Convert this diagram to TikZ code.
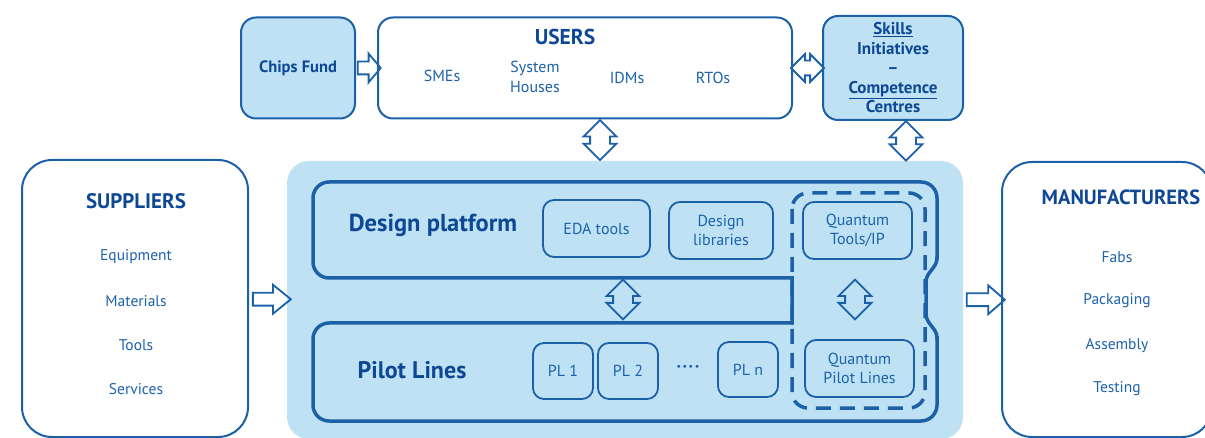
\documentclass[tikz,border=0pt]{standalone}
\usepackage{fontspec}
\setmainfont{PT Sans}
\usetikzlibrary{shapes.arrows,calc}
\definecolor{ecline}{RGB}{28,96,168}
\definecolor{ectext}{RGB}{28,98,172}
\definecolor{ectitle}{RGB}{14,72,148}
\definecolor{ecfill}{RGB}{190,226,244}
\tikzset{
% outlined boxes
box/.style={draw=ecline, line width=2pt, rounded corners=15pt, inner sep=0pt, align=center},
itembox/.style={draw=ecline, line width=1.8pt, rounded corners=11pt, inner sep=0pt, align=center, text=ectext, font=\fontsize{16}{19.5}\selectfont},
heading/.style={text=ectitle, font=\bfseries\fontsize{21}{24}\selectfont},
entry/.style={text=ectext, font=\fontsize{15.5}{19}\selectfont, align=center},
% hollow arrows
fatarrow/.style={single arrow, draw=ecline, line width=1.8pt, inner sep=5.5pt, single arrow head extend=8pt, minimum height=#1},
dblarrow/.style={double arrow, draw=ecline, line width=1.8pt, inner sep=9pt, double arrow head extend=6.5pt, minimum height=#1},
}

\begin{document}
\begin{tikzpicture}[x=1pt, y=-1pt]
\useasboundingbox (0,0) rectangle (1205,438);

% top row
\node[box, fill=ecfill, minimum width=114, minimum height=101, text=ectitle, font=\bfseries\fontsize{16.5}{20}\selectfont] (chips) at (298,68) {Chips Fund};
\node[box, fill=white, minimum width=414, minimum height=101] (users) at (585,68) {};
\node[box, fill=ecfill, minimum width=140, minimum height=104, text=ectitle, font=\bfseries\fontsize{17}{19.5}\selectfont] (skills) at (893,68)
  {\underline{Skills}\\Initiatives\\--\\\underline{Competence}\\Centres};

\node[heading, font=\bfseries\fontsize{21.5}{24}\selectfont] (usershead) at (565,37) {USERS};
\node[entry, font=\fontsize{16}{19.5}\selectfont] (smes) at (442,76) {SMEs};
\node[entry, font=\fontsize{16}{19.5}\selectfont] (houses) at (535,77) {System\\Houses};
\node[entry, font=\fontsize{16}{19.5}\selectfont] (idms) at (627,78) {IDMs};
\node[entry, font=\fontsize{16}{19.5}\selectfont] (rtos) at (713,78) {RTOs};

% side boxes
\node[box, fill=white, rounded corners=30pt, minimum width=226, minimum height=277] (suppliers) at (135,298.5) {};
\node[box, fill=white, rounded corners=30pt, minimum width=210, minimum height=275] (manuf) at (1107,299.5) {};

\node[heading] (supphead) at (136,201) {SUPPLIERS};
\foreach \name/\txt/\y in {equip/Equipment/257, mat/Materials/301, tools/Tools/345, serv/Services/389}
  \node[entry] (\name) at (136,\y) {\txt};

\node[heading, font=\bfseries\fontsize{20.5}{24}\selectfont] (manufhead) at (1121,197) {MANUFACTURERS};
\foreach \name/\txt/\y in {fabs/Fabs/257, pack/Packaging/301, assem/Assembly/346, test/Testing/389}
  \node[entry] (\name) at (1117,\y) {\txt};

% central platform
\node[fill=ecfill, rounded corners=22pt, minimum width=676, minimum height=278, inner sep=0pt] (platform) at (625,300) {};

\draw[ecline, line width=3.5pt, rounded corners=16pt, line cap=rect]
  (792,278) -- (313,278) -- (313,182) -- (937,182) -- (937,258)
  (937,338) -- (937,421) -- (313,421) -- (313,323) -- (792,323);
\draw[ecline, line width=3.5pt, line cap=rect]
  (792,323) -- (792,278)
  (937,258) to[out=-90,in=90] (926,282) -- (926,314) to[out=-90,in=90] (937,338);
\draw[ecline, line width=3.5pt, rounded corners=16pt, dash pattern=on 15pt off 9pt]
  (792,193) rectangle (925,408);

\node[text=ectitle, font=\bfseries\fontsize{24.5}{28}\selectfont] (design) at (433,225) {Design platform};
\node[text=ectitle, font=\bfseries\fontsize{24}{28}\selectfont] (pilot) at (412,370) {Pilot Lines};

\node[itembox, minimum width=107, minimum height=57] (eda) at (596.5,228.5) {EDA tools};
\node[itembox, minimum width=104, minimum height=57] (libs) at (721,230.5) {Design\\libraries};
\node[itembox, minimum width=109, minimum height=57] (qtools) at (857.5,230.5) {Quantum\\Tools/IP};
\node[itembox, minimum width=109, minimum height=57] (qpilot) at (859.5,368.5) {Quantum\\Pilot Lines};
\node[itembox, minimum width=60, minimum height=56] (pl1) at (563,371) {PL 1};
\node[itembox, minimum width=60, minimum height=56] (pl2) at (628,371) {PL 2};
\node[entry, font=\bfseries\fontsize{18}{20}\selectfont] (dots) at (688,369) {·\hspace{1.5pt}·\hspace{1.5pt}·\hspace{1.5pt}·};
\node[itembox, minimum width=60, minimum height=55] (pln) at (748,369.5) {PL n};

% arrows
\node[fatarrow=23, single arrow tip angle=100] (fundarrow) at ($(chips.east)!0.5!(users.west)$) {};
\node[dblarrow=33, inner sep=6.5pt] (skillsarrow) at ($(users.east)!0.5!(skills.west)$) {};
\node[dblarrow=40, rotate=90] (usersarrow) at ($(users.south)!0.5!(platform.north)+(-5,0)$) {};
\node[dblarrow=39, rotate=90] (centrearrow) at ($(skills.south)!0.5!(platform.north -| skills.south)+(13,0)$) {};
\node[fatarrow=38, single arrow tip angle=78] (supparrow) at ($(suppliers.east)!0.5!(platform.west)$) {};
\node[fatarrow=38, single arrow tip angle=82] (manufarrow) at ($(platform.east)!0.5!(manuf.west)$) {};
\node[dblarrow=39, rotate=90] (dparrow) at (623,299.5) {};
\node[dblarrow=39, rotate=90] (qarrow) at (855,299.5) {};

\end{tikzpicture}
\end{document}
